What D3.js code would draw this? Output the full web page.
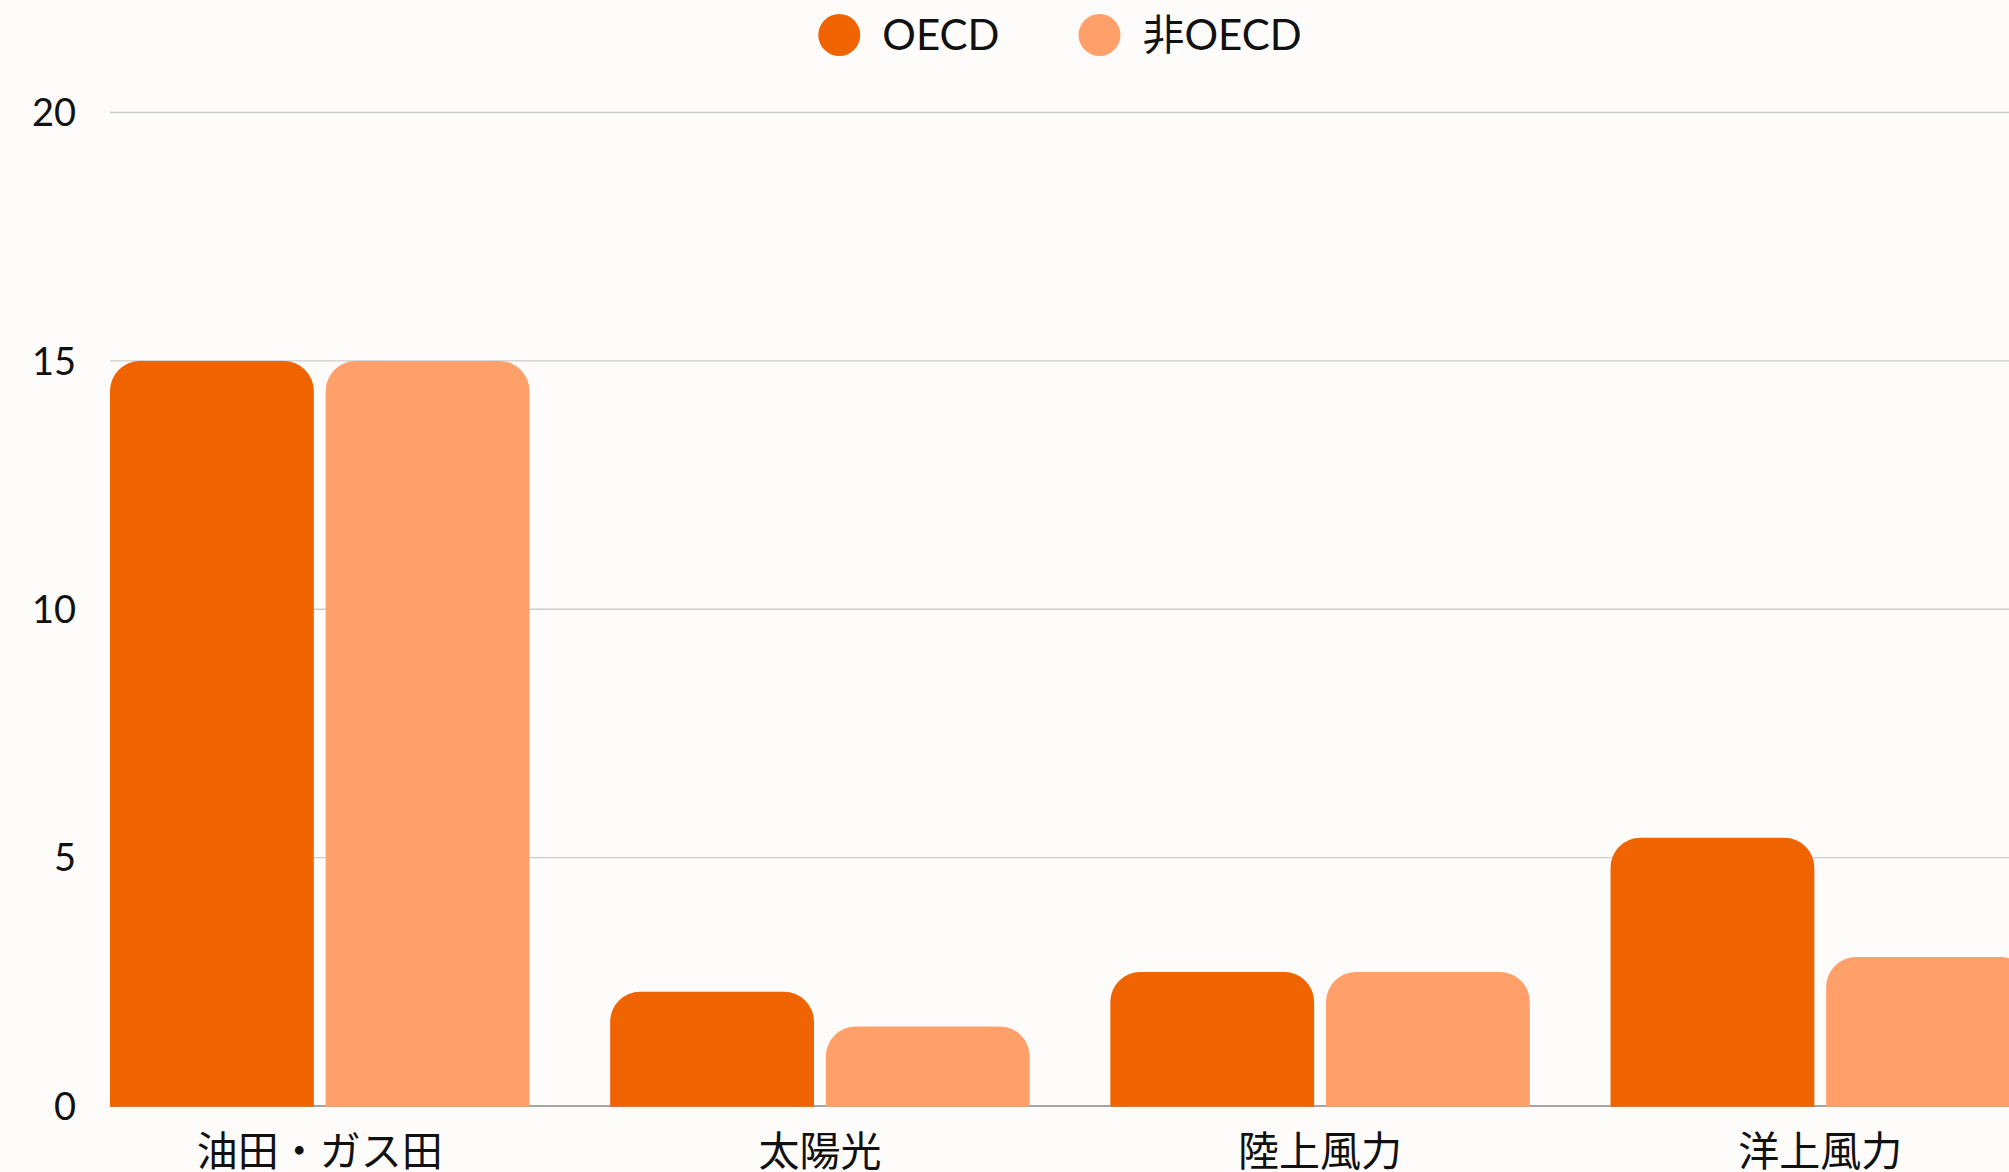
<!DOCTYPE html>
<html>
<head>
<meta charset="utf-8">
<script src="https://cdn.jsdelivr.net/npm/d3@7"></script>
<style>
    body { margin: 0; background: #fdfcfb; }
    svg { display: block; overflow: hidden; }
</style>
</head>
<body>
<svg id="chart"></svg>
<script>
// chart data
let categories = ["油田・ガス田", "太陽光", "陸上風力", "洋上風力"];
let seriesNames = ["OECD", "非OECD"];
let oecdValues = [15.0, 2.3, 2.7, 5.4];
let nonOecdValues = [15.0, 1.6, 2.7, 3.0];
let yTicks = [0, 5, 10, 15, 20];
let seriesColors = ["#f06400", "#ffa06b"];

let width = 2009;
let height = 1172;
let latinFont = "Lato, 'Noto Sans CJK JP', sans-serif";
let cjkFont = "'Noto Sans CJK JP', sans-serif";

let svg = d3.select("#chart")
    .attr("width", width)
    .attr("height", height);

// background
svg.append("rect")
    .attr("width", width)
    .attr("height", height)
    .attr("fill", "#fdfcfb");

// scales
let x = d3.scaleBand()
    .domain(categories)
    .range([110, 2030])
    .paddingInner(0.1613)
    .paddingOuter(0);

let xSub = d3.scaleBand()
    .domain(seriesNames)
    .range([0, x.bandwidth()])
    .paddingInner(0.055)
    .paddingOuter(0);

let y = d3.scaleLinear()
    .domain([0, 20])
    .range([1106, 112.5]);

// gridlines
svg.append("g")
    .selectAll("line")
    .data(yTicks.filter(d => d > 0))
    .enter().append("line")
        .attr("x1", 110)
        .attr("x2", width)
        .attr("y1", d => y(d))
        .attr("y2", d => y(d))
        .attr("stroke", "#cccccc")
        .attr("stroke-width", 1.4);

// y tick labels
svg.append("g")
    .selectAll("text")
    .data(yTicks)
    .enter().append("text")
        .attr("x", 76)
        .attr("y", d => y(d))
        .attr("dy", "0.36em")
        .attr("text-anchor", "end")
        .attr("font-family", latinFont)
        .attr("font-size", 38)
        .attr("fill", "#111")
        .text(d => d);

// baseline
svg.append("line")
    .attr("x1", 110)
    .attr("x2", width)
    .attr("y1", y(0))
    .attr("y2", y(0))
    .attr("stroke", "#888888")
    .attr("stroke-width", 1.6);

// bar path with rounded top corners
function topRounded(x0, y0, w, h, r) {
    r = Math.min(r, w / 2, h);
    return "M" + x0 + "," + (y0 + h) +
        "V" + (y0 + r) +
        "A" + r + "," + r + " 0 0 1 " + (x0 + r) + "," + y0 +
        "H" + (x0 + w - r) +
        "A" + r + "," + r + " 0 0 1 " + (x0 + w) + "," + (y0 + r) +
        "V" + (y0 + h) + "Z";
}

let rows = categories.map((c, i) => ({
    category: c,
    values: [
        { name: seriesNames[0], value: oecdValues[i], color: seriesColors[0] },
        { name: seriesNames[1], value: nonOecdValues[i], color: seriesColors[1] }
    ]
}));

let groups = svg.append("g")
    .selectAll("g")
    .data(rows)
    .enter().append("g")
        .attr("transform", d => "translate(" + x(d.category) + ",0)");

groups.selectAll("path")
    .data(d => d.values)
    .enter().append("path")
        .attr("fill", d => d.color)
        .attr("d", d => topRounded(xSub(d.name), y(d.value), xSub.bandwidth(), y(0) + 0.8 - y(d.value), 30));

// category labels
svg.append("g")
    .selectAll("text")
    .data(categories)
    .enter().append("text")
        .attr("x", d => x(d) + x.bandwidth() / 2)
        .attr("y", 1166)
        .attr("text-anchor", "middle")
        .attr("font-family", cjkFont)
        .attr("font-size", 41)
        .attr("fill", "#111")
        .text(d => d);

// legend
let legend = svg.append("g");
let items = legend.selectAll("g")
    .data(seriesNames)
    .enter().append("g");

items.append("circle")
    .attr("r", 21)
    .attr("cx", 0)
    .attr("cy", 35)
    .attr("fill", (d, i) => seriesColors[i]);

items.append("text")
    .attr("x", 43)
    .attr("y", 35)
    .attr("dy", "0.36em")
    .attr("font-family", latinFont)
    .attr("font-size", 42)
    .attr("fill", "#111")
    .text(d => d);

// place legend items side by side, centred over the plot
let cursor = 0;
let positions = [];
items.each(function() {
    let w = d3.select(this).select("text").node().getComputedTextLength();
    positions.push(cursor);
    cursor += 21 + 43 + w + 79;
});
let total = cursor - 79;
let start = 1060 - total / 2 + 21;
items.attr("transform", (d, i) => "translate(" + (start + positions[i]) + ",0)");
</script>
</body>
</html>
